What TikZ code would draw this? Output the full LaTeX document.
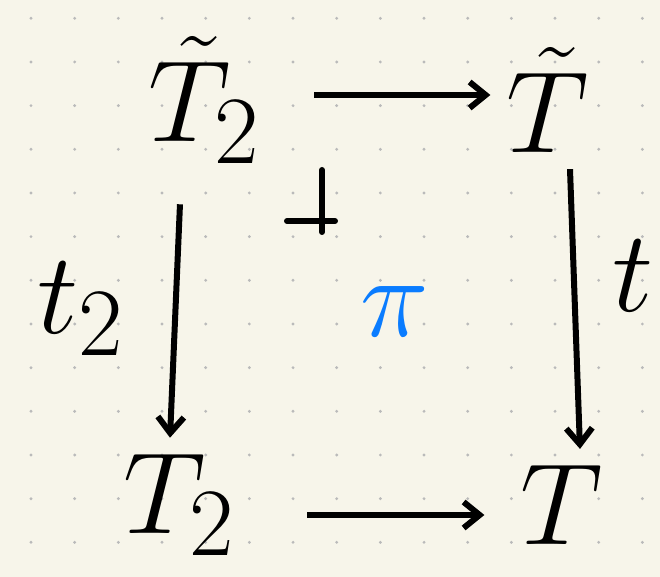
\documentclass[tikz,border=0pt]{standalone}
\usetikzlibrary{arrows.meta}
\tikzset{every node/.style={font=\Huge, scale=2.33}}
\definecolor{papercol}{HTML}{F7F5EA}
\colorlet{dotcol}{black!27}
\definecolor{picol}{HTML}{0A7CFF}
\colorlet{inkcol}{black}

\begin{document}
\begin{tikzpicture}[x=0.5pt, y=-0.5pt, >={Straight Barb[length=8pt, width=13pt]}]

  % Paper with dot grid.
  \fill[papercol] (0,0) rectangle (660,577);
  \useasboundingbox (0,0) rectangle (660,577);
  \foreach \i in {0,...,14} {
    \foreach \j in {0,...,12} {
      \fill[dotcol] ({31+43.67*\i},{18.3+43.67*\j}) circle (0.8pt);
    }
  }

  % Objects of the square.
  \node[text=inkcol] (tT2) at (205,100) {$\tilde{T}_2$};
  \node[text=inkcol] (tT)  at (548,100) {$\tilde{T}$};
  \node[text=inkcol] (T2)  at (180,505) {$T_2$};
  \node[text=inkcol] (T)   at (562,505) {$T$};

  % Arrows.
  \draw[->, line width=3pt, inkcol, shorten <=18pt]
    ([yshift=2.5pt]tT2.east) -- ([yshift=2.5pt]tT.west);
  \draw[->, line width=3pt, inkcol, shorten <=12pt]
    ([xshift=-12pt]tT2.south) -- ([xshift=-5pt]T2.north)
    node[midway, left=6pt] (t2lab) {$t_2$};
  \draw[->, line width=3pt, inkcol]
    ([xshift=11pt]tT.south) -- ([xshift=9pt]T.north)
    node[pos=0.38, right=3.5pt] (tlab) {$t$};
  \draw[->, line width=3pt, inkcol, shorten <=27pt, shorten >=10pt]
    ([yshift=-5pt]T2.east) -- ([yshift=-5pt]T.west);

  % Pullback corner.
  \draw[line width=3pt, line cap=round, inkcol] (287,221) -- (335,221);
  \draw[line width=3pt, line cap=round, inkcol] (322,170) -- (322,232);

  % The map in the middle.
  \node[text=picol] (pi) at (395,312) {$\pi$};

\end{tikzpicture}
\end{document}
